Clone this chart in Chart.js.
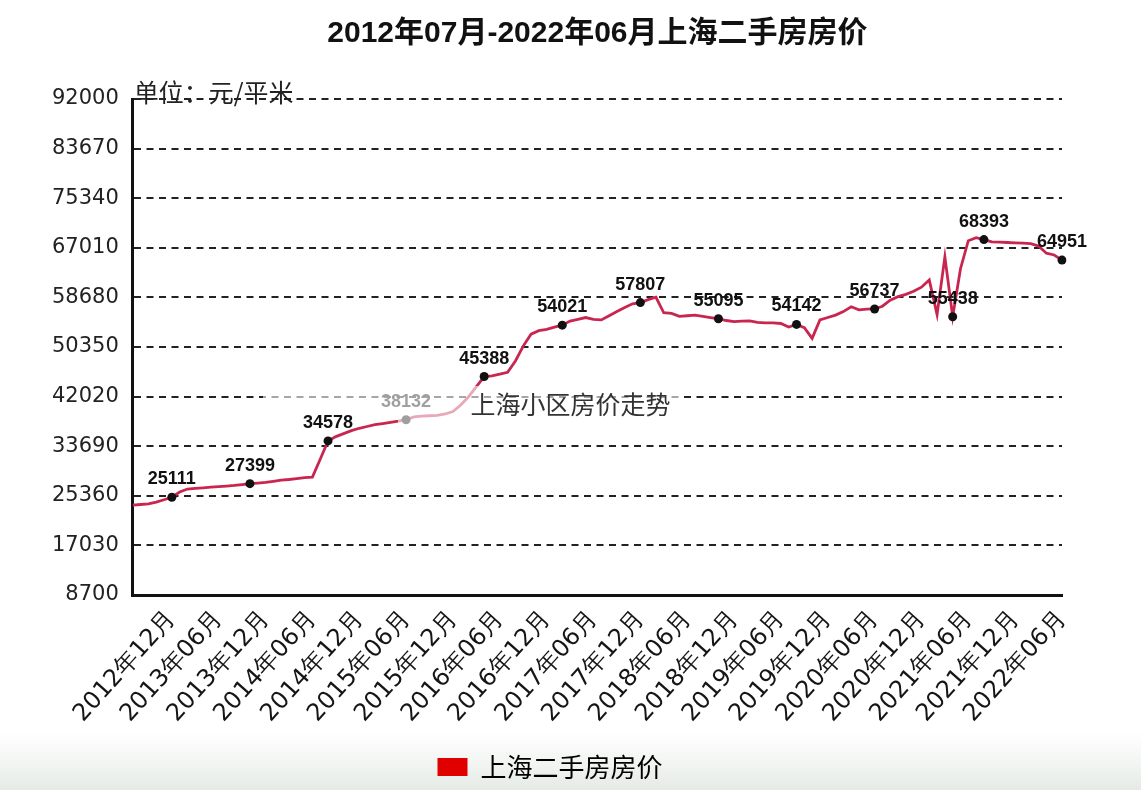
<!DOCTYPE html>
<html>
<head>
<meta charset="utf-8">
<script src="https://cdn.jsdelivr.net/npm/chart.js@4/dist/chart.umd.min.js"></script>
<style>
  html, body { margin: 0; padding: 0; background: #fff; }
  #wrap { width: 1141px; height: 790px; }
</style>
</head>
<body>
<div id="wrap"><canvas id="priceChart"></canvas></div>
<script>
// monthly categories 2012-07 .. 2022-06
var monthLabels = [];
for (var y = 2012; y <= 2022; y++) {
    for (var m = 1; m <= 12; m++) {
        if (y == 2012 && m < 7) continue;
        if (y == 2022 && m > 6) continue;
        monthLabels.push(y + "年" + (m < 10 ? "0" + m : m) + "月");
    }
}

// 元/平米
var priceValues = [
    23800, 23900, 24000, 24300, 24700, 25111, 26000, 26500, 26600, 26700,
    26800, 26900, 27000, 27100, 27250, 27399, 27500, 27600, 27800, 28000,
    28100, 28250, 28400, 28500, 31500, 34578, 35300, 35800, 36300, 36700,
    37000, 37300, 37500, 37700, 37900, 38132, 38600, 38750, 38800, 38850,
    39100, 39500, 40600, 42000, 43700, 45388, 45500, 45800, 46100, 48000,
    50500, 52500, 53100, 53300, 53700, 54021, 54700, 55000, 55300, 55000,
    54900, 55600, 56300, 57000, 57600, 57807, 58300, 58700, 56100, 56000,
    55500, 55600, 55700, 55500, 55300, 55095, 54800, 54600, 54700, 54750,
    54500, 54400, 54400, 54300, 53700, 54142, 53600, 51800, 54900, 55300,
    55700, 56300, 57100, 56600, 56700, 56737, 57200, 58200, 58800, 59200,
    59700, 60400, 61600, 55800, 65500, 55438, 63500, 68200, 68700, 68393,
    68000, 67950, 67900, 67850, 67800, 67700, 67300, 66100, 65800, 64951
];

// points that carry a dot and a value label
var markedIndex = [5, 15, 25, 35, 45, 55, 65, 75, 85, 95, 105, 109, 119];

var yTickMin = 8700;
var yTickMax = 92000;
var yTickStep = 8330;

var titleText = "2012年07月-2022年06月上海二手房房价";
var seriesName = "上海二手房房价";
var unitText = "单位：元/平米";
var watermarkText = "上海小区房价走势";

var pointRadius = priceValues.map(function (v, i) {
    return markedIndex.indexOf(i) >= 0 ? 4.5 : 0;
});

var backgroundPlugin = {
    id: "background",
    beforeDraw: function (chart) {
        var ctx = chart.ctx;
        ctx.save();
        ctx.fillStyle = "#ffffff";
        ctx.fillRect(0, 0, chart.width, chart.height);
        var g = ctx.createLinearGradient(0, chart.height - 60, 0, chart.height);
        g.addColorStop(0, "rgba(235,240,236,0)");
        g.addColorStop(1, "rgba(228,234,229,1)");
        ctx.fillStyle = g;
        ctx.fillRect(0, chart.height - 60, chart.width, 60);
        ctx.restore();
    }
};

var valueLabelPlugin = {
    id: "valueLabels",
    afterDatasetsDraw: function (chart) {
        var ctx = chart.ctx;
        var meta = chart.getDatasetMeta(0);
        ctx.save();
        ctx.font = "bold 18px 'Liberation Sans', Arial, sans-serif";
        ctx.fillStyle = "#111";
        ctx.textAlign = "center";
        ctx.textBaseline = "bottom";
        markedIndex.forEach(function (i) {
            var pt = meta.data[i];
            var x = Math.min(pt.x, chart.width - 34);
            ctx.fillText(String(priceValues[i]), x, pt.y - 9);
        });
        ctx.restore();
    },
    afterDraw: function (chart) {
        var ctx = chart.ctx;
        var area = chart.chartArea;
        ctx.save();
        // unit text sitting on the top grid line
        ctx.font = "25px 'Noto Sans CJK SC', sans-serif";
        ctx.fillStyle = "#222";
        ctx.textAlign = "left";
        ctx.textBaseline = "alphabetic";
        ctx.fillText(unitText, area.left + 1, area.top + 3);

        // watermark, a faded patch with the site name
        var cx = chart.width / 2;
        ctx.fillStyle = "rgba(255,255,255,0.6)";
        ctx.fillRect(263, 386, 417, 26);
        ctx.fillRect(398, 412, 74, 13);
        ctx.font = "25px 'Noto Sans CJK SC', sans-serif";
        ctx.fillStyle = "#333";
        ctx.textAlign = "center";
        ctx.textBaseline = "middle";
        ctx.fillText(watermarkText, cx, 404);
        ctx.restore();
    }
};

new Chart(document.getElementById("priceChart"), {
    type: "line",
    data: {
        labels: monthLabels,
        datasets: [{
            label: seriesName,
            data: priceValues,
            borderColor: "#c9264f",
            backgroundColor: "#e00000",
            borderWidth: 2.8,
            tension: 0,
            pointRadius: pointRadius,
            pointHoverRadius: pointRadius,
            pointBackgroundColor: "#111",
            pointBorderColor: "#111",
            pointBorderWidth: 0
        }]
    },
    options: {
        responsive: true,
        maintainAspectRatio: false,
        animation: false,
        layout: {
            padding: { left: 38, right: 79, top: 0, bottom: 0 }
        },
        plugins: {
            title: {
                display: true,
                text: titleText,
                fullSize: false,
                color: "#111",
                font: { family: "'Liberation Sans', 'Noto Sans CJK SC', sans-serif", size: 30, weight: "bold" },
                padding: { top: 16, bottom: 47 }
            },
            legend: {
                position: "bottom",
                labels: {
                    boxWidth: 30,
                    boxHeight: 18,
                    color: "#222",
                    font: { family: "'Noto Sans CJK SC', sans-serif", size: 26 },
                    padding: 9,
                    generateLabels: function (chart) {
                        return [{
                            text: seriesName,
                            fillStyle: "#e00000",
                            strokeStyle: "#e00000",
                            lineWidth: 0,
                            datasetIndex: 0
                        }];
                    }
                }
            },
            tooltip: { enabled: false }
        },
        scales: {
            x: {
                type: "category",
                offset: false,
                grid: { display: false, drawOnChartArea: false },
                border: { display: true, color: "#111", width: 3 },
                afterFit: function (scale) { scale.height = 150; },
                ticks: {
                    autoSkip: false,
                    minRotation: 48,
                    maxRotation: 48,
                    padding: 2,
                    color: "#151515",
                    font: { family: "'DejaVu Sans', sans-serif", size: 24 },
                    callback: function (val, idx) {
                        var lab = monthLabels[idx];
                        if (lab.indexOf("06月") > 0 || lab.indexOf("12月") > 0) return lab;
                        return null;
                    }
                }
            },
            y: {
                min: yTickMin,
                max: yTickMax,
                grid: {
                    color: "#222",
                    lineWidth: 2,
                    drawTicks: false
                },
                border: { display: true, color: "#111", width: 3, dash: [7, 5.5] },
                ticks: {
                    stepSize: yTickStep,
                    padding: 14,
                    color: "#222",
                    font: { family: "'DejaVu Sans', sans-serif", size: 21 },
                    callback: function (v) { return v; }
                }
            }
        }
    },
    plugins: [backgroundPlugin, valueLabelPlugin]
});
</script>
</body>
</html>
